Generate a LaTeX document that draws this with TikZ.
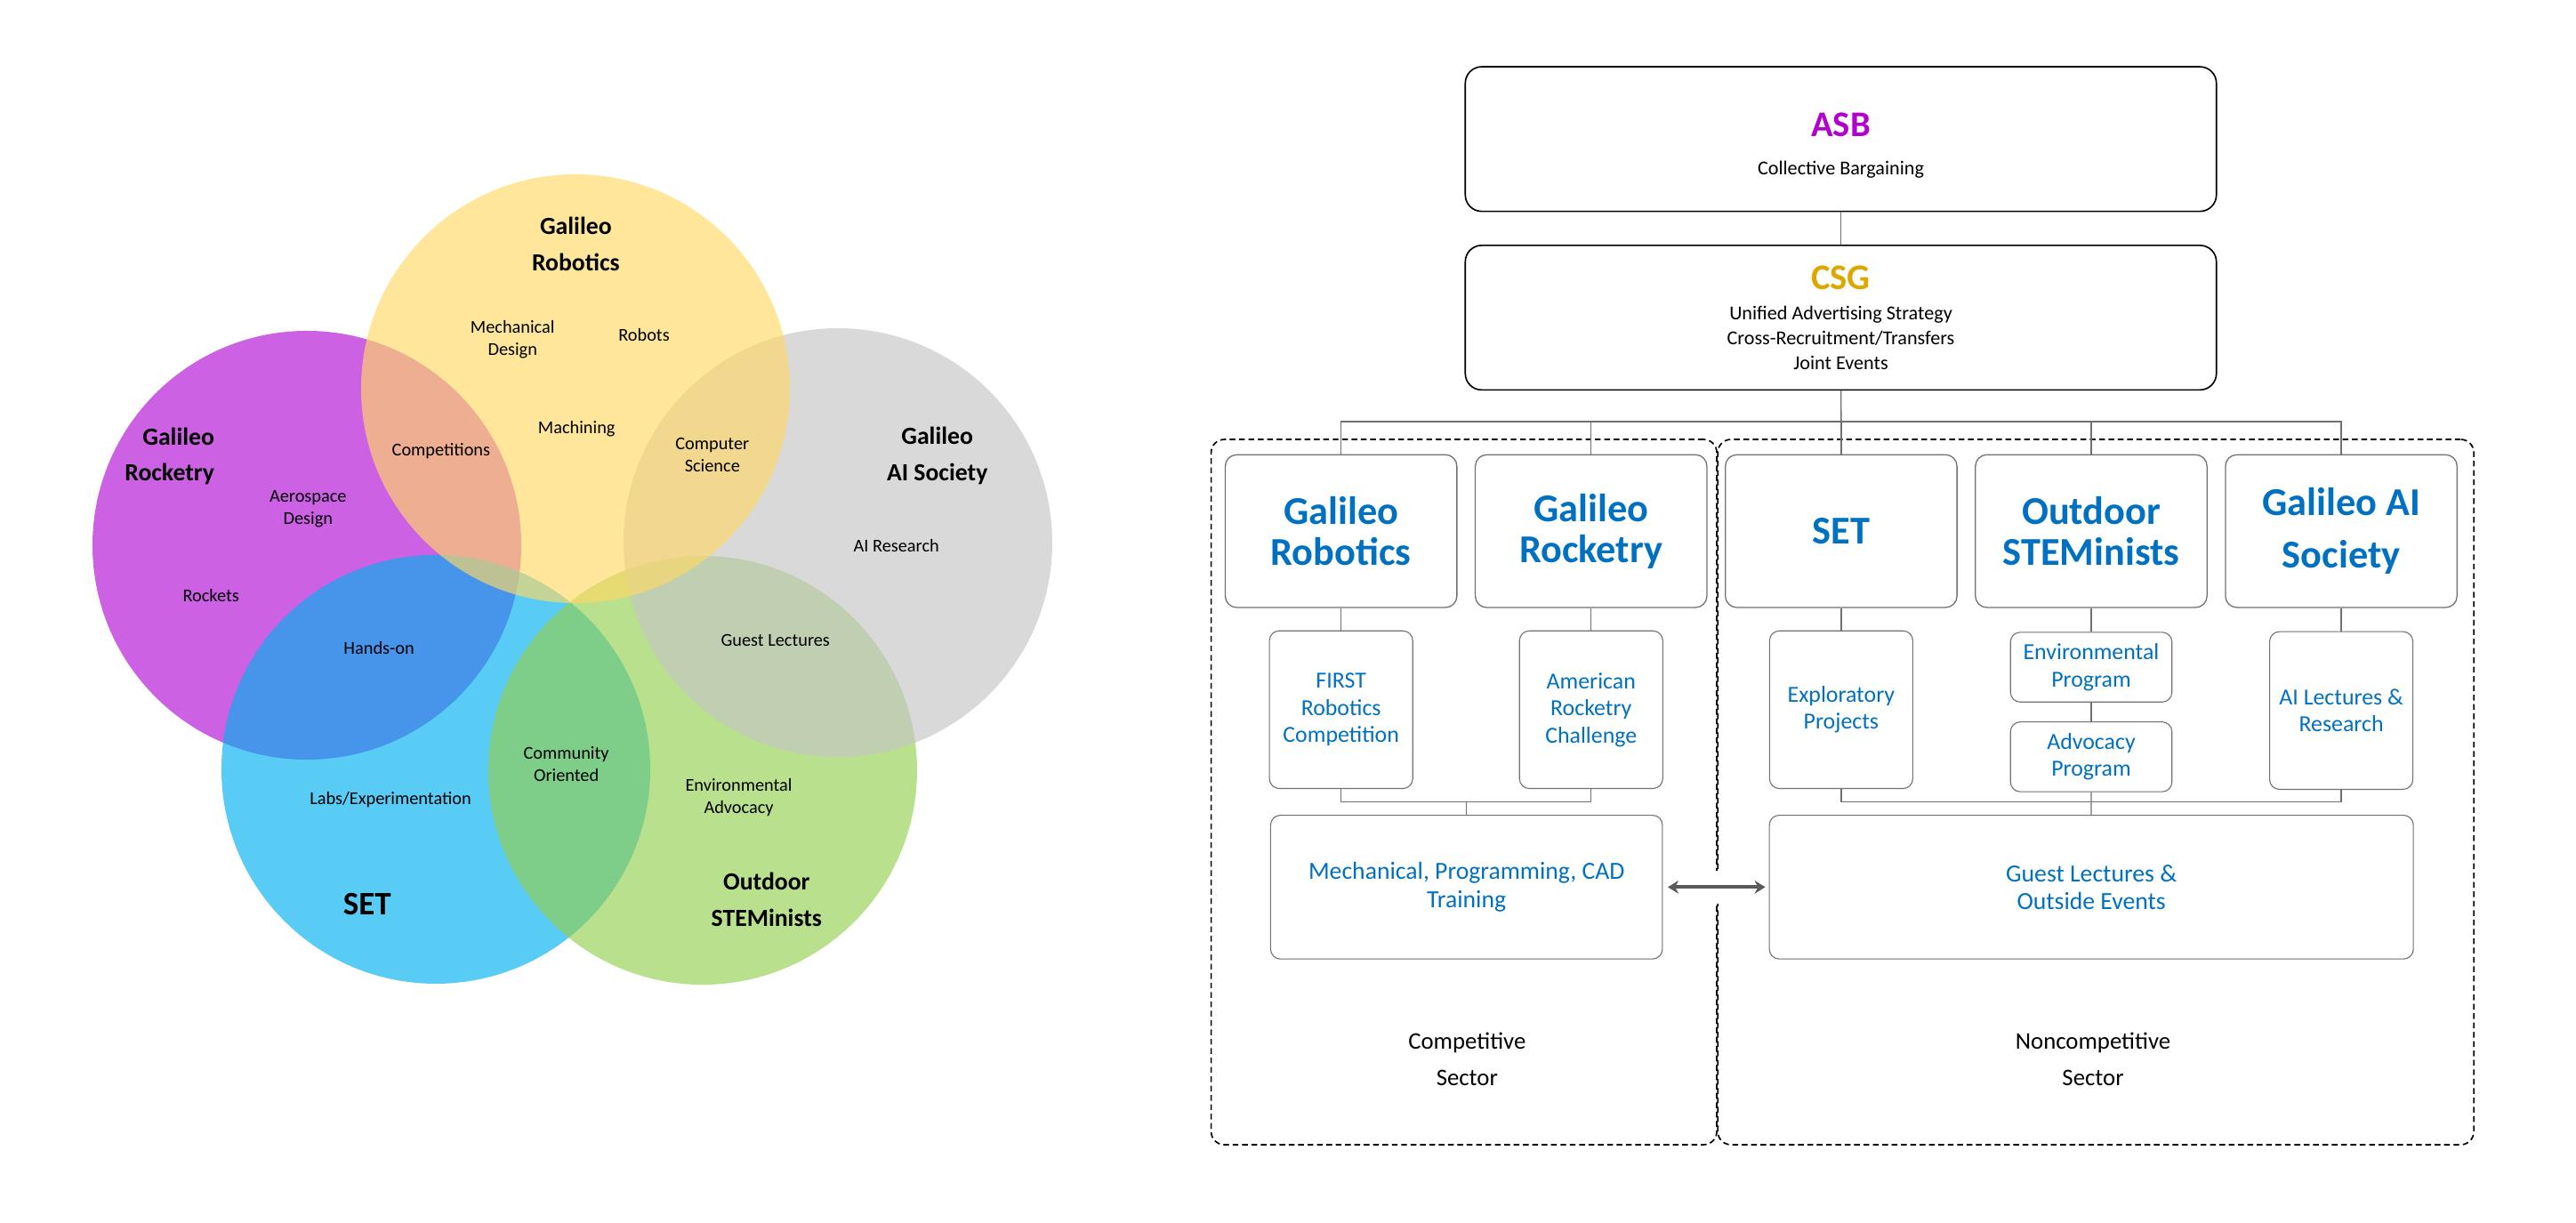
\documentclass[tikz,border=0pt]{standalone}
\usepackage{fontspec}
\setmainfont{Carlito}
\usetikzlibrary{arrows.meta}

\definecolor{vpurple}{RGB}{177,12,212}
\definecolor{vblue}{RGB}{0,176,240}
\definecolor{vgreen}{RGB}{146,208,80}
\definecolor{vgrey}{RGB}{197,197,197}
\definecolor{vyellow}{RGB}{255,217,102}
\definecolor{asbpurple}{RGB}{178,0,205}
\definecolor{csggold}{RGB}{221,167,0}
\definecolor{orgblue}{RGB}{0,112,192}
\definecolor{linegray}{RGB}{112,112,112}
\definecolor{arrowgray}{RGB}{89,89,89}

\tikzset{
  venn/.style={fill opacity=0.65},
  vsmall/.style={font=\fontsize{11}{13.5}\selectfont, align=center},
  vbig/.style={font=\fontsize{15}{22}\selectfont\bfseries, align=center},
  topbox/.style={draw=black, line width=0.9pt, rounded corners=10pt, minimum width=457.2pt,
    minimum height=88pt, inner sep=0pt, align=center, font=\fontsize{12}{15.1}\selectfont},
  club/.style={draw=linegray, line width=0.7pt, rounded corners=7pt, minimum width=141pt,
    minimum height=93pt, inner sep=0pt, align=center, text=orgblue,
    font=\fontsize{24}{25}\selectfont\bfseries},
  subbox/.style={draw=linegray, line width=0.6pt, rounded corners=6pt, minimum width=87.2pt,
    minimum height=96pt, inner sep=0pt, align=center, text=orgblue,
    font=\fontsize{14}{16.5}\selectfont},
  progbox/.style={subbox, minimum width=98.3pt, minimum height=42.5pt},
  widebox/.style={subbox, minimum height=87.5pt, font=\fontsize{15}{17}\selectfont},
  sector/.style={draw=black, line width=0.9pt, dash pattern=on 3.5pt off 2.2pt,
    rounded corners=8pt, inner sep=0pt, minimum height=429.3pt},
  sectorlabel/.style={font=\fontsize{14.5}{22.5}\selectfont, align=center},
  conn/.style={draw=linegray, line width=0.7pt},
  biarrow/.style={draw=arrowgray, line width=2.2pt,
    {Stealth[length=6.5pt,width=8pt]}-{Stealth[length=6.5pt,width=8pt]}},
}

\begin{document}
\begin{tikzpicture}[x=1pt,y=-1pt]
\useasboundingbox (0,0) rectangle (1568,744);

% venn diagram
\fill[venn,vpurple] (186.8,331.9) circle (130.5pt);
\fill[venn,vblue] (265.3,468.3) circle (130.5pt);
\fill[venn,vgreen] (427.7,468.9) circle (130.5pt);
\fill[venn,vgrey] (510.0,330.3) circle (130.5pt);
\fill[venn,vyellow] (350.3,236.6) circle (130.5pt);

\node[vbig] (robname) at (350.5,148.5) {Galileo\\Robotics};
\node[vbig, align=right, anchor=east] (rocname) at (134,277.7) {Galileo\\Rocketry};
\node[vbig] (ainame) at (570.5,277.5) {Galileo\\AI Society};
\node[vbig] (outname) at (466.6,547.5) {Outdoor\\STEMinists};
\node[vbig, font=\fontsize{20}{22}\selectfont\bfseries] (setname) at (223.5,550.6) {SET};

\node[vsmall] (mechdes) at (312,206.7) {Mechanical\\Design};
\node[vsmall] (robots) at (392,203.6) {Robots};
\node[vsmall] (machining) at (351,261) {Machining};
\node[vsmall] (comps) at (268.5,274.6) {Competitions};
\node[vsmall] (compsci) at (433.6,277) {Computer\\Science};
\node[vsmall] (aero) at (187.5,310) {Aerospace\\Design};
\node[vsmall] (rockets) at (128.4,362.6) {Rockets};
\node[vsmall] (handson) at (230.7,394.4) {Hands-on};
\node[vsmall] (labs) at (237.7,486.7) {Labs/Experimentation};
\node[vsmall] (community) at (344.7,465.2) {Community\\Oriented};
\node[vsmall] (envadv) at (449.7,485.5) {Environmental\\Advocacy};
\node[vsmall] (guestlec) at (472,389.9) {Guest Lectures};
\node[vsmall] (airesearch) at (545.6,332) {AI Research};

% org chart
\node[sector, minimum width=307.8pt] (comp) at (891.1,482.15) {};
\node[sector, minimum width=460.2pt] (noncomp) at (1275.7,482.15) {};
\node[sectorlabel] (complab) at (893,644.7) {Competitive\\Sector};
\node[sectorlabel] (noncomplab) at (1274,644.7) {Noncompetitive\\Sector};

\node[topbox] (asb) at (1120.5,84.65)
  {\rule{0pt}{22pt}{\fontsize{22}{22}\selectfont\bfseries\color{asbpurple}ASB}\\[8pt]Collective Bargaining};
\node[topbox] (csg) at (1120.5,193.35)
  {{\fontsize{22}{22}\selectfont\bfseries\color{csggold}CSG}\\[3.4pt]Unified Advertising Strategy\\
   Cross-Recruitment/Transfers\\Joint Events};

\node[club] (rob) at (816.3,323.3) {Galileo\\Robotics};
\node[club] (roc) at (968.5,323.3) {Galileo\\Rocketry};
\node[club] (set) at (1120.7,323.3) {SET};
\node[club] (out) at (1272.9,323.3) {Outdoor\\STEMinists};
\node[club] (ai) at (1425.1,323.3) {Galileo AI\\[7pt]Society};

\node[subbox] (first) at (816.3,432) {FIRST\\Robotics\\Competition};
\node[subbox] (amer) at (968.5,432) {American\\Rocketry\\Challenge};
\node[subbox] (expl) at (1120.7,432) {Exploratory\\Projects};
\node[progbox] (env) at (1272.9,406.1) {Environmental\\Program};
\node[progbox] (adv) at (1272.9,460.7) {Advocacy\\Program};
\node[subbox] (ailec) at (1425.1,432.5) {AI Lectures \&\\Research};

\node[widebox, minimum width=238.5pt] (mech) at (892.65,540) {Mechanical, Programming, CAD\\Training};
\node[widebox, minimum width=392pt] (guest) at (1273,540) {Guest Lectures \&\\Outside Events};

\coordinate (bus) at (1120.7,256.6);
\coordinate (cbus) at (892.65,488.2);
\coordinate (nbus) at (1273,488.2);

\draw[conn] (asb) -- (csg);
\draw[conn] (csg) -- (bus);
\draw[conn] (rob.north) |- (bus) -| (ai.north);
\foreach \club in {roc,set,out}
  \draw[conn] (\club.north) -- (\club.north |- bus);
\foreach \parent/\child in {rob/first,roc/amer,set/expl,out/env,env/adv,ai/ailec}
  \draw[conn] (\parent) -- (\child);
\draw[conn] (first.south) |- (cbus) -| (amer.south);
\draw[conn] (cbus) -- (mech);
\draw[conn] (expl.south) |- (nbus) -| (ailec.south);
\draw[conn] (adv) -- (guest);

\draw[biarrow, shorten <=3pt, shorten >=2.2pt,
  preaction={draw=white, line width=20pt, -}] (mech) -- (guest);
\end{tikzpicture}
\end{document}
